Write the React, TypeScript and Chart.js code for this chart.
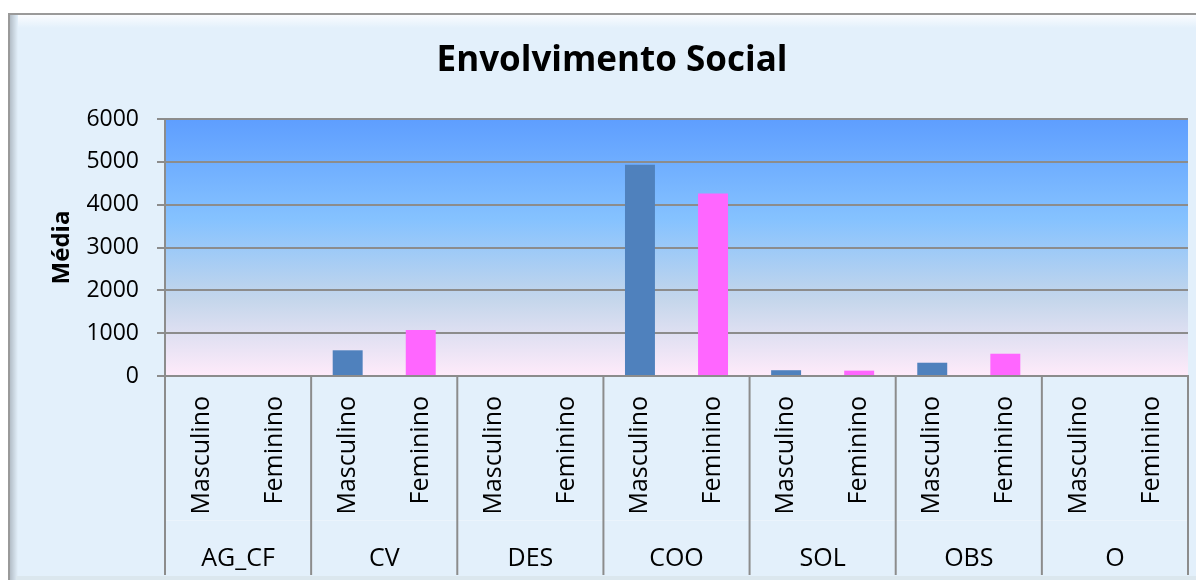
import React, { useEffect, useRef } from "react";
import { Chart, registerables } from "chart.js";

Chart.register(...registerables);

// ---- data ----
const chartTitle = "Envolvimento Social";
const yAxisTitle = "Média";
const groups = ["AG_CF", "CV", "DES", "COO", "SOL", "OBS", "O"];
const genders = ["Masculino", "Feminino"];
const masculino = [0, 600, 0, 4930, 135, 310, 0];
const feminino = [0, 1075, 0, 4260, 125, 520, 0];
const yMin = 0;
const yMax = 6000;
const yStep = 1000;

const genderColors = ["#4f81bd", "#ff66ff"];

const FONT = '"Open Sans", "DejaVu Sans", sans-serif';
const W = 1196;
const H = 572;

const labels = groups.flatMap(() => genders);
const values = groups.flatMap((_, i) => [masculino[i], feminino[i]]);
const colors = groups.flatMap(() => genderColors);

const framePlugin = {
  id: "frameAndGroups",
  beforeDraw(chart: any) {
    const { ctx, width, height, chartArea } = chart;
    ctx.save();
    // outer chart frame
    ctx.fillStyle = "#e3f0fb";
    ctx.fillRect(0, 5, width, height - 5);
    let g = ctx.createLinearGradient(0, 6, 0, 20);
    g.addColorStop(0, "#fcfdff");
    g.addColorStop(1, "#e3f0fb");
    ctx.fillStyle = g;
    ctx.fillRect(2, 6, width - 2, 14);
    g = ctx.createLinearGradient(0, 0, 10, 0);
    g.addColorStop(0, "#a7b1ba");
    g.addColorStop(1, "#e3f0fb");
    ctx.fillStyle = g;
    ctx.fillRect(0, 5, 10, height - 5);
    ctx.fillStyle = "#dbe7ee";
    ctx.fillRect(8, height - 4, width - 8, 4);
    ctx.fillStyle = "#9a9a9a";
    ctx.fillRect(0, 5, width, 2);
    ctx.fillRect(0, 5, 2, height - 5);

    // plot area gradient
    const { left, top, right, bottom } = chartArea;
    g = ctx.createLinearGradient(0, top, 0, bottom);
    g.addColorStop(0, "#5e9eff");
    g.addColorStop(0.39, "#85c2ff");
    g.addColorStop(0.7, "#c4d6eb");
    g.addColorStop(1, "#ffebfa");
    ctx.fillStyle = g;
    ctx.fillRect(left, top, right - left, bottom - top);

    // title
    ctx.fillStyle = "#000";
    ctx.font = `bold 35px ${FONT}`;
    ctx.textAlign = "center";
    ctx.textBaseline = "middle";
    ctx.fillText(chartTitle, 604, 53);
    ctx.restore();
  },
  afterDraw(chart: any) {
    const { ctx, chartArea } = chart;
    const xs = chart.scales.x;
    const yBottom = 567;
    ctx.save();
    // faint line between label levels
    ctx.strokeStyle = "rgba(255,255,255,0.3)";
    ctx.lineWidth = 1;
    ctx.beginPath();
    ctx.moveTo(chartArea.left, 512.5);
    ctx.lineTo(chartArea.right, 512.5);
    ctx.stroke();

    ctx.strokeStyle = "#8c8c8c";
    ctx.lineWidth = 2;
    for (let gi = 0; gi <= groups.length; gi++) {
      let px: number;
      if (gi === 0) px = chartArea.left;
      else if (gi === groups.length) px = chartArea.right;
      else px = (xs.getPixelForValue(gi * 2 - 1) + xs.getPixelForValue(gi * 2)) / 2;
      ctx.beginPath();
      ctx.moveTo(px, chartArea.bottom);
      ctx.lineTo(px, yBottom);
      ctx.stroke();
    }
    ctx.fillStyle = "#000";
    ctx.font = `25px ${FONT}`;
    ctx.textAlign = "center";
    ctx.textBaseline = "middle";
    groups.forEach((name, i) => {
      const cx = (xs.getPixelForValue(2 * i) + xs.getPixelForValue(2 * i + 1)) / 2;
      ctx.fillText(name, cx, 551);
    });
    ctx.restore();
  },
};

export default function App() {
  const ref = useRef<HTMLCanvasElement>(null);
  useEffect(() => {
    if (!ref.current) return;
    Chart.defaults.font.family = FONT;
    Chart.defaults.color = "#000";
    const chart = new Chart(ref.current, {
      type: "bar",
      data: {
        labels,
        datasets: [
          {
            label: chartTitle,
            data: values,
            backgroundColor: colors,
            borderWidth: 0,
            barPercentage: 1,
            categoryPercentage: 0.41,
          },
        ],
      },
      options: {
        responsive: false,
        animation: false,
        layout: { padding: { left: 0, right: 16, top: 111, bottom: 0 } },
        plugins: {
          legend: { display: false },
          tooltip: { enabled: false },
          title: { display: false },
        },
        scales: {
          x: {
            grid: { display: false },
            border: { display: true, color: "#8c8c8c", width: 2 },
            ticks: {
              autoSkip: false,
              maxRotation: 90,
              minRotation: 90,
              padding: 12,
              color: "#000",
              font: { size: 25, family: FONT },
            },
            afterFit(scale: any) {
              scale.height = 204;
            },
          },
          y: {
            min: yMin,
            max: yMax,
            ticks: {
              stepSize: yStep,
              padding: 18,
              color: "#000",
              font: { size: 23, family: FONT },
              callback: (v: any) => String(v),
            },
            grid: { color: "#8c8c8c", lineWidth: 2, tickLength: 8 },
            border: { display: true, color: "#8c8c8c", width: 2 },
            title: {
              display: true,
              text: yAxisTitle,
              color: "#000",
              font: { size: 24, weight: "bold", family: FONT },
              padding: { top: 40, bottom: 0 },
            },
            afterFit(scale: any) {
              scale.width = 157;
            },
          },
        },
      },
      plugins: [framePlugin],
    });
    return () => chart.destroy();
  }, []);
  return (
    <div style={{ width: W, height: H }}>
      <canvas ref={ref} width={W} height={H} style={{ display: "block" }} />
    </div>
  );
}
